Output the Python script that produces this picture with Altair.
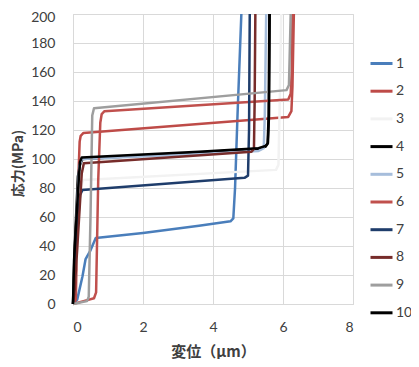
import altair as alt
import pandas as pd

series_names = ["1", "2", "3", "4", "5", "6", "7", "8", "9", "10"]
series_colors = ["#4A7EBB", "#BE4B48", "#F2F2F2", "#000000", "#A6BDDB",
                 "#C0504D", "#1F3D6B", "#772C2A", "#9E9E9E", "#000000"]

s1_x = [0, 0.12, 0.27, 0.36, 0.5, 0.65, 2.0, 3.6, 4.5, 4.58, 4.63, 4.7, 4.81]
s1_y = [0, 3, 19, 31, 37, 45.5, 49, 54, 57, 59, 80, 130, 200]

s2_x = [0, 0.08, 0.15, 0.19, 0.22, 0.3, 6.15, 6.24, 6.27, 6.31]
s2_y = [0, 3, 85, 112, 116, 118, 129, 133, 150, 200]

s3_x = [0, 0.1, 0.2, 0.29, 5.8, 5.87, 5.9, 5.95]
s3_y = [0, 30, 78, 85.5, 92.5, 96, 130, 200]

s4_x = [0, 0.05, 0.14, 0.2, 0.27, 3.6, 5.3, 5.5, 5.56, 5.59, 5.61]
s4_y = [0, 40, 88, 96, 100, 104.5, 107, 108.5, 110.5, 130, 200]

s5_x = [0, 0.05, 0.12, 0.18, 0.25, 3.6, 5.3, 5.45, 5.48, 5.52]
s5_y = [0, 25, 70, 95, 100, 103.4, 105.5, 107.5, 130, 200]

s6_x = [0, 0.3, 0.6, 0.66, 0.72, 0.78, 0.82, 0.9, 6.15, 6.22, 6.25, 6.27]
s6_y = [0, 2, 4, 8, 85, 125, 131, 133, 141, 145, 160, 200]

s7_x = [0, 0.05, 0.12, 0.2, 0.27, 4.9, 5.0, 5.03, 5.05]
s7_y = [0, 20, 50, 75, 78.6, 87, 88.5, 120, 200]

s8_x = [0, 0.05, 0.15, 0.25, 0.31, 5.1, 5.17, 5.19, 5.21]
s8_y = [0, 10, 50, 90, 97, 105, 107, 140, 200]

s9_x = [0, 0.4, 0.45, 0.5, 0.55, 0.6, 6.1, 6.17, 6.19, 6.22]
s9_y = [0, 2, 5, 60, 130, 135, 147.5, 151, 170, 200]

s10_x = [0, 0.03, 0.1, 0.17, 0.2, 0.25, 3.6, 5.3, 5.5, 5.57, 5.6, 5.62]
s10_y = [0, 30, 60, 88, 98, 101, 105, 107.5, 109, 111, 130, 200]

xs = [s1_x, s2_x, s3_x, s4_x, s5_x, s6_x, s7_x, s8_x, s9_x, s10_x]
ys = [s1_y, s2_y, s3_y, s4_y, s5_y, s6_y, s7_y, s8_y, s9_y, s10_y]

rows = []
for name, xv, yv in zip(series_names, xs, ys):
    for i, (a, b) in enumerate(zip(xv, yv)):
        rows.append({"series": name, "x": a, "y": b, "i": i})
df = pd.DataFrame(rows)

font = "Lato"
jp = "Noto Sans CJK JP"
txt = "#404040"

chart = alt.Chart(df).mark_line(strokeWidth=2.5, strokeJoin="round").encode(
    x=alt.X("x:Q", scale=alt.Scale(domain=[0, 8], nice=False),
            axis=alt.Axis(title="変位（μm）", values=[0, 2, 4, 6, 8],
                          titleFont=jp, titleFontSize=15, titleFontWeight="bold",
                          titleColor=txt, titleBaseline="bottom", titleY=55,
                          labelFont=font, labelFontSize=14, labelColor=txt,
                          labelPadding=16, ticks=False, tickSize=0,
                          gridColor="#D9D9D9", domainColor="#D9D9D9")),
    y=alt.Y("y:Q", scale=alt.Scale(domain=[0, 200], nice=False),
            axis=alt.Axis(title="応力(MPa)", values=list(range(0, 201, 20)),
                          titleFont=jp, titleFontSize=14, titleFontWeight="bold",
                          titleColor=txt, titleX=-48, titleY=149, titleAngle=270,
                          titleBaseline="bottom", titleAlign="center",
                          labelFont=font, labelFontSize=14, labelColor=txt,
                          labelPadding=18, ticks=False, tickSize=0,
                          labelOffset=alt.condition("datum.value == 200", alt.value(3), alt.value(0)),
                          gridColor="#D9D9D9", domainColor="#D9D9D9")),
    color=alt.Color("series:N",
                    scale=alt.Scale(domain=series_names, range=series_colors),
                    legend=alt.Legend(title=None, orient="none", legendX=296, legendY=37,
                                      symbolType="stroke", symbolSize=484,
                                      symbolStrokeWidth=3, rowPadding=7.7,
                                      labelFont=font, labelFontSize=14, labelColor=txt,
                                      labelOffset=2)),
    order=alt.Order("i:Q"),
).properties(
    width=280, height=290,
    padding={"left": 65, "top": 6, "right": 58, "bottom": 55},
    autosize=alt.AutoSizeParams(type="none"),
).configure_view(stroke=None).configure(background="white")

chart.save("out.html", embed_options={"renderer": "svg", "actions": False})
